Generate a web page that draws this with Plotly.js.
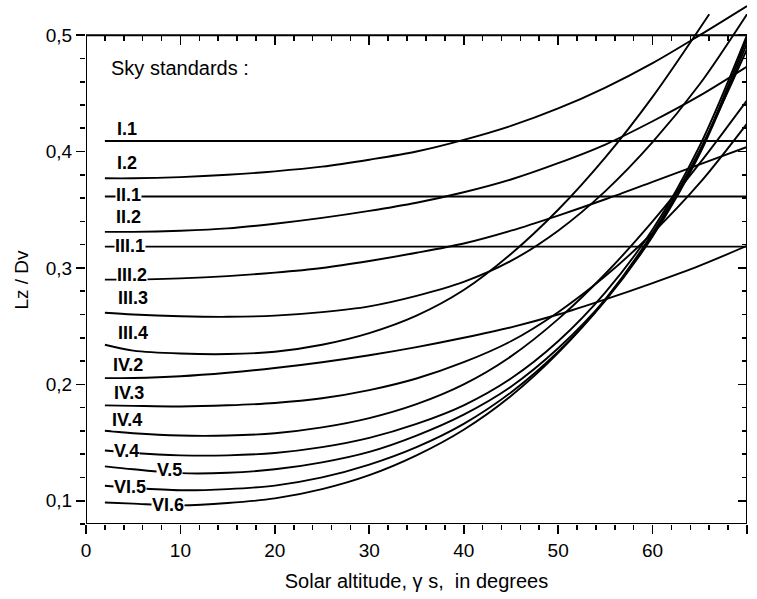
<!DOCTYPE html>
<html>
<head>
<meta charset="utf-8">
<script src="https://cdn.plot.ly/plotly-3.0.1.min.js"></script>
<style>html,body{margin:0;padding:0;background:#fff}#chart{width:757px;height:599px}</style>
</head>
<body>
<div id="chart"></div>
<script>
// ---- data ----
const xFlat = [2, 70];
const I1  = [0.409, 0.409];
const II1 = [0.3614, 0.3614];
const III1 = [0.3183, 0.3183];

const xs = [2, 5, 10, 15, 20, 25, 30, 35, 40, 45, 50, 55, 60, 65, 70];
const I2   = [0.377, 0.377, 0.378, 0.380, 0.383, 0.387, 0.393, 0.400, 0.410, 0.422, 0.437, 0.455, 0.476, 0.500, 0.525];
const II2  = [0.331, 0.331, 0.332, 0.334, 0.338, 0.343, 0.349, 0.356, 0.365, 0.376, 0.390, 0.406, 0.426, 0.448, 0.473];
const III2 = [0.290, 0.290, 0.291, 0.293, 0.296, 0.300, 0.306, 0.313, 0.321, 0.332, 0.345, 0.359, 0.374, 0.389, 0.404];
const III3 = [0.2615, 0.260, 0.2585, 0.258, 0.259, 0.262, 0.267, 0.276, 0.288, 0.306, 0.332, 0.366, 0.408, 0.458, 0.518];
const IV2  = [0.2053, 0.2055, 0.207, 0.210, 0.214, 0.219, 0.225, 0.232, 0.240, 0.249, 0.260, 0.273, 0.287, 0.302, 0.319];
const IV3  = [0.1819, 0.1815, 0.181, 0.182, 0.184, 0.188, 0.195, 0.205, 0.219, 0.237, 0.262, 0.293, 0.330, 0.373, 0.424];
const IV4  = [0.1601, 0.158, 0.156, 0.156, 0.158, 0.163, 0.171, 0.183, 0.200, 0.224, 0.256, 0.295, 0.340, 0.390, 0.444];
const V4   = [0.1432, 0.141, 0.139, 0.139, 0.141, 0.146, 0.154, 0.166, 0.182, 0.205, 0.237, 0.279, 0.333, 0.405, 0.500];
const V5   = [0.1295, 0.127, 0.1237, 0.124, 0.127, 0.133, 0.142, 0.156, 0.174, 0.198, 0.231, 0.273, 0.328, 0.400, 0.497];
const VI5  = [0.1129, 0.111, 0.109, 0.110, 0.113, 0.120, 0.131, 0.146, 0.166, 0.193, 0.228, 0.272, 0.327, 0.398, 0.493];
const VI6  = [0.0985, 0.0975, 0.096, 0.098, 0.102, 0.110, 0.122, 0.139, 0.161, 0.190, 0.227, 0.273, 0.330, 0.401, 0.488];

const xsIII4 = [2, 5, 10, 15, 20, 25, 30, 35, 40, 45, 50, 55, 60, 66];
const III4 = [0.234, 0.229, 0.2265, 0.226, 0.228, 0.234, 0.244, 0.259, 0.281, 0.312, 0.350, 0.395, 0.447, 0.518];

const xTickVals = [0, 10, 20, 30, 40, 50, 60, 70];
const xTickText = ['0', '10', '20', '30', '40', '50', '60', '70'];
const yTickVals = [0.1, 0.2, 0.3, 0.4, 0.5];
const yTickText = ['0,1', '0,2', '0,3', '0,4', '0,5'];
const xMinor = [2,4,6,8,12,14,16,18,22,24,26,28,32,34,36,38,42,44,46,48,52,54,56,58,62,64,66,68];
const yMinor = [0.08,0.12,0.14,0.16,0.18,0.22,0.24,0.26,0.28,0.32,0.34,0.36,0.38,0.42,0.44,0.46,0.48];

const curveNames = ['I.1','I.2','II.1','II.2','III.1','III.2','III.3','III.4','IV.2','IV.3','IV.4','V.4','V.5','VI.5','VI.6'];
const curveX = [xFlat, xs, xFlat, xs, xFlat, xs, xs, xsIII4, xs, xs, xs, xs, xs, xs, xs];
const curveY = [I1, I2, II1, II2, III1, III2, III3, III4, IV2, IV3, IV4, V4, V5, VI5, VI6];

// ---- chart ----
const X0 = 0, X1 = 70, Y0 = 0.08, YF = 0.5, Y1 = 0.5302;
const PLOT_L = 86, PLOT_W = 661;

const traces = curveNames.map((n, i) => ({
  x: curveX[i], y: curveY[i], name: n, type: 'scatter', mode: 'lines',
  line: {color: '#000', width: 1.9, shape: 'spline', smoothing: 0.9},
  hoverinfo: 'skip', showlegend: false
}));
// invisible helper trace so that the mirrored top/right axes are drawn
traces.push({x: [xs[0]], y: [I2[0]], xaxis: 'x2', yaxis: 'y2', mode: 'markers',
  marker: {opacity: 0}, hoverinfo: 'skip', showlegend: false});

const labelPos = {
  'I.1': [4.34, 0.4193], 'I.2': [4.34, 0.3901], 'II.1': [4.55, 0.3626], 'II.2': [4.55, 0.3437],
  'III.1': [4.66, 0.3188], 'III.2': [4.87, 0.2939], 'III.3': [4.98, 0.2741], 'III.4': [4.98, 0.2441],
  'IV.2': [4.45, 0.2166], 'IV.3': [4.55, 0.1925], 'IV.4': [4.34, 0.1693], 'V.4': [4.34, 0.1427],
  'V.5': [8.79, 0.1264], 'VI.5': [4.66, 0.1118], 'VI.6': [8.68, 0.0963]
};
const sans = 'Liberation Sans, Arial, sans-serif';
const labelFont = {family: sans, size: 18, color: '#000', weight: 700};
const annotations = curveNames.map(n => ({
  x: labelPos[n][0], y: labelPos[n][1], xref: 'x', yref: 'y', text: n, showarrow: false,
  font: labelFont, bgcolor: '#fff', borderpad: 0, xanchor: 'center', yanchor: 'middle'
}));
annotations.push({x: 2.44, y: 0.4717, xref: 'x', yref: 'y', text: 'Sky standards :', showarrow: false,
  xanchor: 'left', yanchor: 'middle', font: {family: sans, size: 20, color: '#000'}});
// y-axis title, centred on the frame
annotations.push({x: (22 - PLOT_L) / PLOT_W, y: ((YF + Y0) / 2 - Y0) / (Y1 - Y0), xref: 'paper', yref: 'paper',
  text: 'Lz / Dv', showarrow: false, textangle: -90, xanchor: 'center', yanchor: 'middle',
  font: {family: sans, size: 19, color: '#000'}});

const tickFont = {family: sans, size: 19, color: '#000'};
const posTop = (YF - Y0) / (Y1 - Y0);

const layout = {
  width: 757, height: 599,
  margin: {l: PLOT_L, r: 10, t: 0, b: 75, pad: 0},
  paper_bgcolor: '#fff', plot_bgcolor: '#fff',
  showlegend: false,
  xaxis: {
    range: [X0, X1], showline: false, showgrid: false, zeroline: false,
    tickmode: 'array', tickvals: xTickVals, ticktext: xTickText,
    ticks: 'outside', ticklen: 9, tickwidth: 1.6, tickcolor: '#000',
    minor: {tickmode: 'array', tickvals: xMinor, ticks: 'outside', ticklen: 5, tickwidth: 1.6, tickcolor: '#000', showgrid: false},
    tickfont: tickFont,
    title: {text: 'Solar altitude, γ s,  in degrees', font: {family: sans, size: 20, color: '#000'}, standoff: 14},
    fixedrange: true
  },
  yaxis: {
    range: [Y0, Y1], showline: false, showgrid: false, zeroline: false,
    tickmode: 'array', tickvals: yTickVals, ticktext: yTickText,
    ticks: 'outside', ticklen: 9, tickwidth: 1.6, tickcolor: '#000',
    minor: {tickmode: 'array', tickvals: yMinor, ticks: 'outside', ticklen: 5, tickwidth: 1.6, tickcolor: '#000', showgrid: false},
    tickfont: tickFont,
    fixedrange: true
  },
  xaxis2: {
    overlaying: 'x', anchor: 'free', position: posTop, side: 'top',
    range: [X0, X1], showline: false, showgrid: false, zeroline: false, showticklabels: false,
    tickmode: 'array', tickvals: xTickVals,
    ticks: 'inside', ticklen: 9, tickwidth: 1.6, tickcolor: '#000',
    minor: {tickmode: 'array', tickvals: xMinor, ticks: 'inside', ticklen: 5, tickwidth: 1.6, tickcolor: '#000', showgrid: false},
    fixedrange: true
  },
  yaxis2: {
    overlaying: 'y', anchor: 'x', side: 'right',
    range: [Y0, Y1], showline: false, showgrid: false, zeroline: false, showticklabels: false,
    tickmode: 'array', tickvals: yTickVals,
    ticks: 'inside', ticklen: 9, tickwidth: 1.6, tickcolor: '#000',
    minor: {tickmode: 'array', tickvals: yMinor, ticks: 'inside', ticklen: 5, tickwidth: 1.6, tickcolor: '#000', showgrid: false},
    fixedrange: true
  },
  shapes: [{type: 'rect', xref: 'x', yref: 'y', x0: X0, x1: X1, y0: Y0, y1: YF,
    line: {color: '#000', width: 2}, fillcolor: 'rgba(0,0,0,0)', layer: 'above'}],
  annotations: annotations
};

Plotly.newPlot('chart', traces, layout, {staticPlot: true, displayModeBar: false});
</script>
</body>
</html>
